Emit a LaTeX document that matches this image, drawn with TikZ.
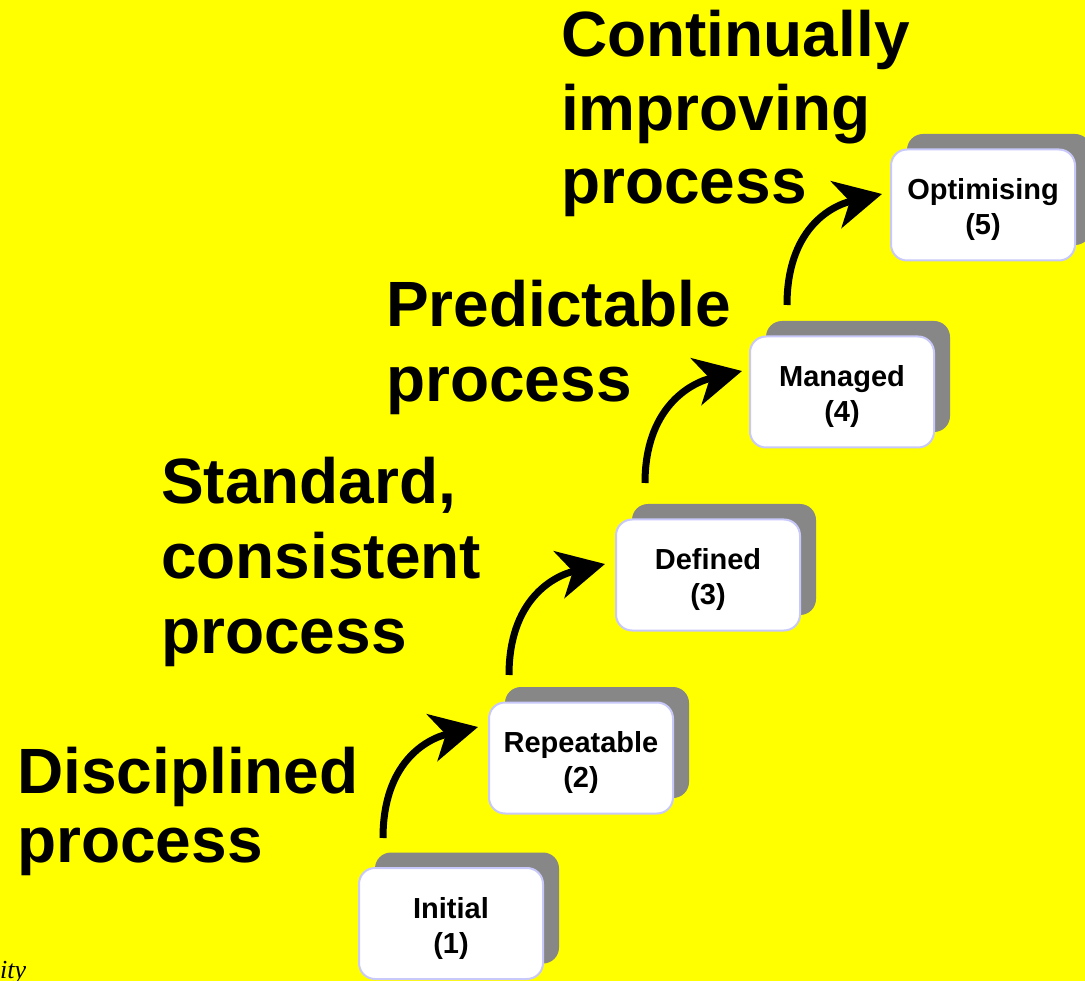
\documentclass[tikz,border=0pt]{standalone}
\usepackage{fontspec}
\setmainfont{Liberation Sans}
\newfontfamily\serifit{Liberation Serif}
\usetikzlibrary{arrows.meta,shadows}
\definecolor{bg}{RGB}{255,255,0}
\definecolor{shadowgray}{RGB}{135,135,135}
\definecolor{boxborder}{RGB}{200,200,250}
\begin{document}
\begin{tikzpicture}[x=1pt,y=-1pt,
  level/.style={draw=boxborder, line width=2pt, fill=white, rounded corners=16pt,
    minimum width=184pt, minimum height=111pt, inner sep=0pt,
    drop shadow={shadow xshift=16pt, shadow yshift=15.5pt, opacity=1, fill=shadowgray}},
  leveltext/.style={font=\fontsize{29}{35}\selectfont\bfseries, align=center, inner sep=0pt},
  big/.style={font=\fontsize{64}{75}\selectfont\bfseries, align=left, anchor=base west, inner sep=0pt},
  climb/.style={line width=7pt, -{Stealth[length=47pt,width=48pt,inset=14pt]}}
]
\useasboundingbox (0,0) rectangle (1085,981);
\fill[bg] (0,0) rectangle (1085,981);

% headings (anchored at the baseline of the last line)
\node[big, font=\fontsize{64}{69}\selectfont\bfseries] (h1) at (17,862) {Disciplined\\process};
\node[big] (h2) at (161,653) {Standard,\\consistent\\process};
\node[big] (h3) at (386,402) {Predictable\\process};
\node[big, font=\fontsize{64}{73.5}\selectfont\bfseries] (h4) at (561,204) {Continually\\improving\\process};

% cut-off footer text
\node[font=\serifit\itshape\fontsize{26}{26}\selectfont, anchor=base west, inner sep=0pt] (cut) at (0,978) {ity};

% level boxes
\node[level] (b1) at (451,923.5) {};
\node[level] (b2) at (581,758) {};
\node[level] (b3) at (708,575) {};
\node[level] (b4) at (842,392) {};
\node[level] (b5) at (983,205) {};

\node[leveltext] (l1) at ([yshift=-4.5pt]b1.center) {Initial\\(1)};
\node[leveltext] (l2) at ([yshift=-4.5pt]b2.center) {Repeatable\\(2)};
\node[leveltext] (l3) at ([yshift=-4.5pt]b3.center) {Defined\\(3)};
\node[leveltext] (l4) at ([yshift=-4.5pt]b4.center) {Managed\\(4)};
\node[leveltext] (l5) at ([yshift=-4.5pt]b5.center) {Optimising\\(5)};

% arrows
\coordinate (s1) at (383,838); \coordinate (e1) at (478,727);
\coordinate (s2) at (509,675); \coordinate (e2) at (605,564);
\coordinate (s3) at (645,483); \coordinate (e3) at (742,371);
\coordinate (s4) at (787,305); \coordinate (e4) at (882,194);
\draw[climb] (s1) .. controls +(0,-75) and +(-52,12) .. (e1);
\draw[climb] (s2) .. controls +(0,-75) and +(-52,12) .. (e2);
\draw[climb] (s3) .. controls +(0,-75) and +(-52,12) .. (e3);
\draw[climb] (s4) .. controls +(0,-75) and +(-52,12) .. (e4);
\end{tikzpicture}
\end{document}
